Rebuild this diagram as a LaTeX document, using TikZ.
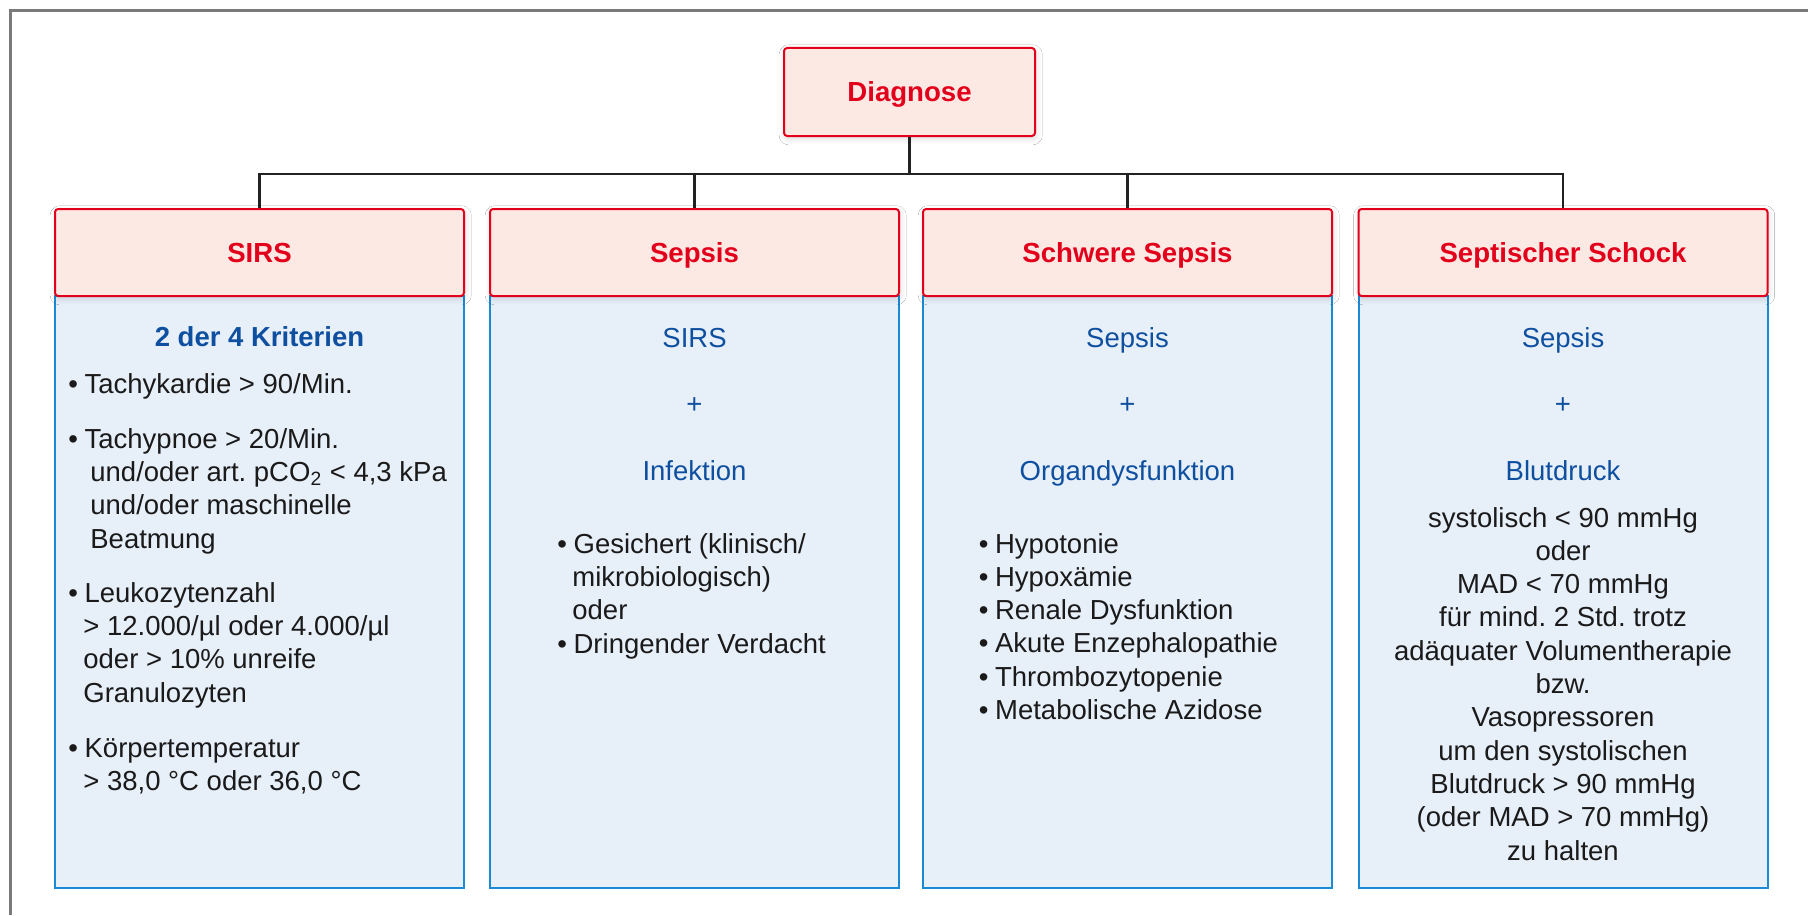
\documentclass[tikz,border=0pt]{standalone}
\usepackage{fontspec}
\setmainfont{Liberation Sans}
\usetikzlibrary{shadows.blur}
\definecolor{hred}{HTML}{E2001A}
\definecolor{hfill}{HTML}{FDE9E4}
\definecolor{bfill}{HTML}{E7EFF9}
\definecolor{bdraw}{HTML}{1A8AD4}
\definecolor{tblue}{HTML}{0E4FA0}
\definecolor{tblack}{HTML}{1A1A1A}
\definecolor{conncol}{HTML}{222222}
\definecolor{framecol}{HTML}{7A7A7A}
\tikzset{
  hdr/.style={draw=hred, line width=1pt, fill=hfill, rounded corners=1.6pt,
    minimum width=204.5pt, minimum height=43.5pt, inner sep=0pt,
    text height=9.9pt, text depth=0pt,
    text=hred, font=\fontsize{13.8}{16.5}\selectfont\bfseries,
    blur shadow={shadow xshift=0.6pt, shadow yshift=-1.4pt, shadow blur radius=3pt, shadow blur steps=8, shadow opacity=14}},
  bodybox/.style={draw=bdraw, line width=1pt, fill=bfill, minimum width=204.5pt, minimum height=296pt, inner sep=0pt},
  conn/.style={draw=conncol, line width=1.2pt},
  ltext/.style={inner sep=0pt, anchor=base west, text=tblack, font=\fontsize{13.75}{16.5}\selectfont},
  ctext/.style={inner sep=0pt, anchor=base, text=tblack, font=\fontsize{13.75}{16.5}\selectfont},
  btitle/.style={inner sep=0pt, anchor=base, text=tblue, font=\fontsize{13.75}{16.5}\selectfont},
}
\newcommand{\bul}{\textbullet\kern3.3pt }
\frenchspacing
\begin{document}
\frenchspacing
\begin{tikzpicture}[x=0.5pt,y=-0.5pt]
\useasboundingbox (0,0) rectangle (1808,915);
\fill[white] (0,0) rectangle (1808,915);
% frame
\draw[framecol, line width=1.5pt] (10.5,915) -- (10.5,10.5) -- (1808,10.5);

% body boxes
\node[bodybox] (b1) at (259.5,592) {};
\node[bodybox] (b2) at (694.5,592) {};
\node[bodybox] (b3) at (1127.5,592) {};
\node[bodybox] (b4) at (1563,592) {};

% connectors
\coordinate (bus) at (909.5,174);
\node[hdr, minimum width=125.5pt, minimum height=44pt] (diag) at (909.5,92) {Diagnose};
\node[hdr] (h1) at (259.5,252.5) {SIRS};
\node[hdr] (h2) at (694.5,252.5) {Sepsis};
\node[hdr] (h3) at (1127.5,252.5) {Schwere Sepsis};
\node[hdr] (h4) at (1563,252.5) {Septischer Schock};
\draw[conn] (diag.south) -- (bus);
\draw[conn] (h1.north) -- (h1.north |- bus) -- (h4.north |- bus) -- (h4.north);
\draw[conn] (h2.north) -- (h2.north |- bus);
\draw[conn] (h3.north) -- (h3.north |- bus);

% column 1
\node[btitle, font=\fontsize{13.75}{16.5}\selectfont\bfseries] (c1t) at (259.5,346) {2 der 4 Kriterien};
\node[ltext] (c1a) at (68,393) {\bul Tachykardie > 90/Min.};
\node[ltext] (c1b) at (68,448) {\bul Tachypnoe > 20/Min.};
\node[ltext] (c1c) at (90,481.3) {und/oder art. pCO\textsubscript{2} < 4,3 kPa};
\node[ltext] (c1d) at (90,514.6) {und/oder maschinelle};
\node[ltext] (c1e) at (90,548) {Beatmung};
\node[ltext] (c1f) at (68,602) {\bul Leukozytenzahl};
\node[ltext] (c1g) at (83,635.3) {> 12.000/µl oder 4.000/µl};
\node[ltext] (c1h) at (83,668.6) {oder > 10\% unreife};
\node[ltext] (c1i) at (83,702) {Granulozyten};
\node[ltext] (c1j) at (68,757) {\bul Körpertemperatur};
\node[ltext] (c1k) at (83,790) {> 38,0 °C oder 36,0 °C};

% column 2
\node[btitle] (c2t) at (694.5,347) {SIRS};
\node[btitle] (c2p) at (694.5,413) {+};
\node[btitle] (c2i) at (694.5,480) {Infektion};
\node[ltext] (c2a) at (557,553) {\bul Gesichert (klinisch/};
\node[ltext] (c2b) at (572,586.3) {mikrobiologisch)};
\node[ltext] (c2c) at (572,619.6) {oder};
\node[ltext] (c2d) at (557,653) {\bul Dringender Verdacht};

% column 3
\node[btitle] (c3t) at (1127.5,347) {Sepsis};
\node[btitle] (c3p) at (1127.5,413) {+};
\node[btitle] (c3i) at (1127.5,480) {Organdysfunktion};
\foreach \t [count=\i from 0] in {Hypotonie, Hypoxämie, Renale Dysfunktion, Akute Enzephalopathie, Thrombozytopenie, Metabolische Azidose}
  \node[ltext] (c3l\i) at (978.5,{553+33.33*\i}) {\bul \t};

% column 4
\node[btitle] (c4t) at (1563,347) {Sepsis};
\node[btitle] (c4p) at (1563,413) {+};
\node[btitle] (c4i) at (1563,480) {Blutdruck};
\foreach \t [count=\i from 0] in {systolisch < 90 mmHg, oder, MAD < 70 mmHg, für mind. 2 Std. trotz, adäquater Volumentherapie, bzw., Vasopressoren, um den systolischen, Blutdruck > 90 mmHg, (oder MAD > 70 mmHg), zu halten}
  \node[ctext] (c4l\i) at (1563,{527+33.33*\i}) {\t};
\end{tikzpicture}
\end{document}
